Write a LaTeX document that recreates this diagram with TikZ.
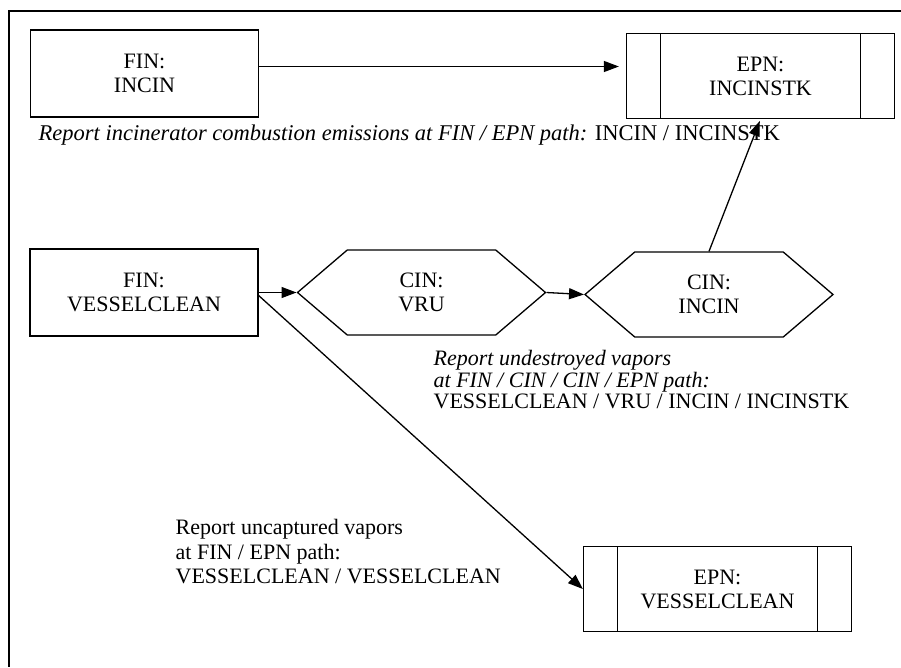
\documentclass[tikz,border=0pt]{standalone}
\usepackage{fontspec}
\setmainfont{Liberation Serif}
\usetikzlibrary{arrows.meta,shapes.symbols}

\begin{document}
\begin{tikzpicture}[x=1pt,y=-1pt,line width=1.3pt,
    >={Triangle[length=15pt,width=11pt]},
    every node/.style={font=\fontsize{22}{24}\selectfont,align=center},
    finbox/.style={draw,rectangle,minimum width=228pt,minimum height=87pt},
    epnbox/.style={draw,rectangle,minimum width=268pt,minimum height=85pt,
        path picture={
          \draw ([xshift=34pt]path picture bounding box.north west) -- ([xshift=34pt]path picture bounding box.south west);
          \draw ([xshift=-34pt]path picture bounding box.north east) -- ([xshift=-34pt]path picture bounding box.south east);}},
    cinhex/.style={draw,signal,signal to=west and east,signal pointer angle=81,
        minimum width=248pt,minimum height=85pt},
    note/.style={anchor=west,align=left,inner sep=0pt}]
    \useasboundingbox (0,0) rectangle (901,667);
    \draw[line width=1.6pt] (901,11) -- (9,11) -- (9,667);

    \node[finbox] (finincin) at (144.5,73.5) {FIN:\\INCIN};
    \node[epnbox] (epnstk) at (760.5,76) {EPN:\\INCINSTK};
    \node[finbox] (finvc) at (144,292.5) {FIN:\\VESSELCLEAN};
    \node[cinhex] (cinvru) at (421.5,292.5) {CIN:\\VRU};
    \node[cinhex] (cinincin) at (709,294.5) {CIN:\\INCIN};
    \node[epnbox] (epnvc) at (717.5,589) {EPN:\\VESSELCLEAN};

    \draw [->,shorten >=7pt] ([yshift=7pt]finincin.east) -- ([yshift=7pt]finincin.east -| epnstk.west);
    \draw [->] (finvc.east) -- (cinvru.west);
    \draw [->] (cinvru.east) -- (cinincin.west);
    \draw [->,shorten >=2pt] (cinincin.north) -- (epnstk.south);
    \draw [->] ([yshift=-3pt]finvc.east) -- (epnvc.west);

    \node[note,font=\fontsize{22.5}{24}\selectfont] (notestk) at (38,135)
        {\textit{Report incinerator combustion emissions at FIN / EPN path:} INCIN / INCINSTK};
    \node[note,font=\fontsize{22}{21.5}\selectfont] (notevru) at (433,380)
        {\textit{Report undestroyed vapors}\\\textit{at FIN / CIN / CIN / EPN path:}\\VESSELCLEAN / VRU / INCIN / INCINSTK};
    \node[note,font=\fontsize{22}{24.5}\selectfont] (notevc) at (175,552)
        {Report uncaptured vapors\\at FIN / EPN path:\\VESSELCLEAN / VESSELCLEAN};
\end{tikzpicture}
\end{document}
